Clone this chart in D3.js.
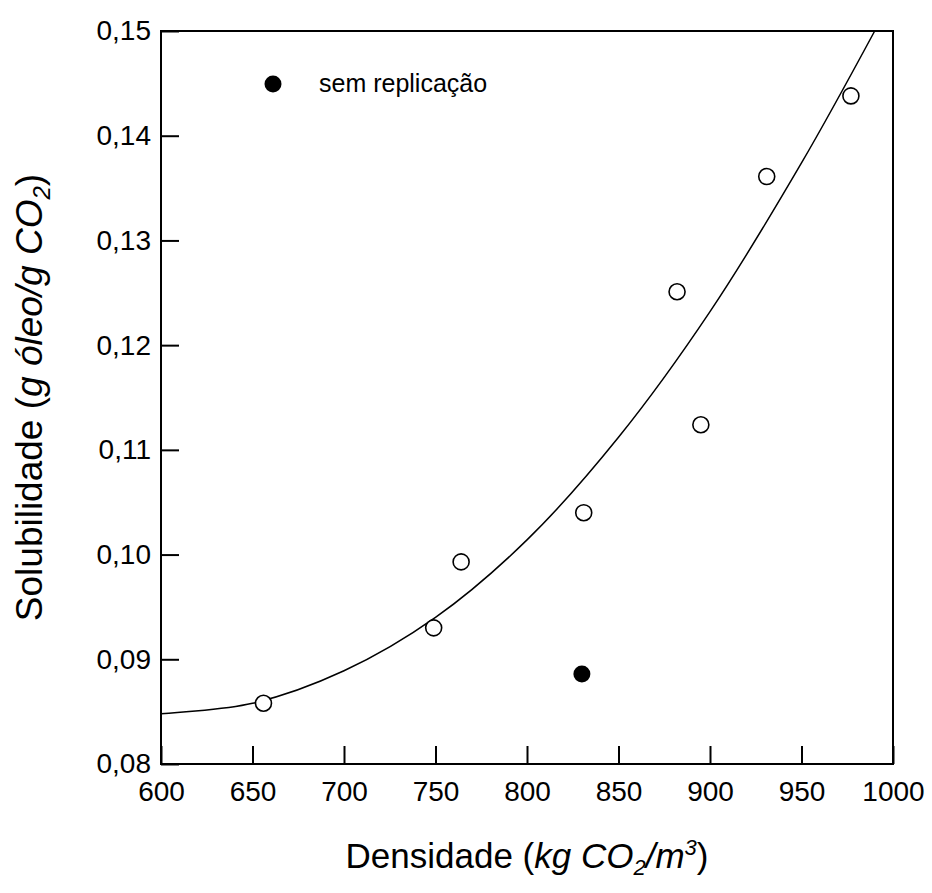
<!DOCTYPE html>
<html>
<head>
<meta charset="utf-8">
<script src="https://cdn.jsdelivr.net/npm/d3@7"></script>
<style>
  body { margin: 0; background: #fff; }
  svg text { font-family: "Liberation Sans", Arial, sans-serif; fill: #000; }
</style>
</head>
<body>
<script>
// measured points (open circles)
const densidade = [656, 749, 764, 831, 882, 895, 931, 977];
const solubilidade = [0.0858, 0.0930, 0.0993, 0.1040, 0.1251, 0.1124, 0.1361, 0.1438];

// point without replication (filled)
const semRepX = [830];
const semRepY = [0.0886];

// fitted curve
const fitX = [600, 650, 700, 750, 800, 850, 900, 950, 990];
const fitY = [0.0848, 0.0858, 0.0889, 0.0940, 0.1014, 0.1112, 0.1232, 0.1374, 0.1500];

const xTicks = [600, 650, 700, 750, 800, 850, 900, 950, 1000];
const yTicks = [0.08, 0.09, 0.10, 0.11, 0.12, 0.13, 0.14, 0.15];

let width = 932,
  height = 893;
let margin = { left: 161, right: 39, top: 31, bottom: 129 };

let svg = d3
  .select('body')
  .append('svg')
  .attr('width', width)
  .attr('height', height);

let x = d3
  .scaleLinear()
  .domain([600, 1000])
  .range([margin.left, width - margin.right]);

let y = d3
  .scaleLinear()
  .domain([0.08, 0.15])
  .range([height - margin.bottom, margin.top]);

const comma = (d) => d3.format('.2f')(d).replace('.', ',');

// frame
svg
  .append('rect')
  .attr('x', x(600))
  .attr('y', y(0.15))
  .attr('width', x(1000) - x(600))
  .attr('height', y(0.08) - y(0.15))
  .attr('fill', 'none')
  .attr('stroke', '#000')
  .attr('stroke-width', 2);

// axes, ticks pointing inward
let xAxis = svg
  .append('g')
  .attr('transform', `translate(0,${y(0.08)})`)
  .call(
    d3.axisBottom(x).tickValues(xTicks).tickSize(-18).tickPadding(17).tickFormat(d3.format('d'))
  );

let yAxis = svg
  .append('g')
  .attr('transform', `translate(${x(600)},0)`)
  .call(
    d3.axisLeft(y).tickValues(yTicks).tickSize(-18).tickPadding(10).tickFormat(comma)
  );

[xAxis, yAxis].forEach((g) => {
  g.select('.domain').remove();
  g.selectAll('.tick line').attr('stroke', '#000').attr('stroke-width', 2);
  g.selectAll('.tick text').attr('font-size', 28).attr('fill', '#000');
});

// fit curve
let line = d3
  .line()
  .x((d, i) => x(fitX[i]))
  .y((d, i) => y(fitY[i]))
  .curve(d3.curveCatmullRom);

svg
  .append('path')
  .datum(fitX)
  .attr('d', line)
  .attr('fill', 'none')
  .attr('stroke', '#000')
  .attr('stroke-width', 1.5);

// data points
densidade.forEach((d, i) => {
  svg
    .append('circle')
    .attr('cx', x(d))
    .attr('cy', y(solubilidade[i]))
    .attr('r', 8)
    .attr('fill', '#fff')
    .attr('stroke', '#000')
    .attr('stroke-width', 1.6);
});

semRepX.forEach((d, i) => {
  svg
    .append('circle')
    .attr('cx', x(d))
    .attr('cy', y(semRepY[i]))
    .attr('r', 8.5)
    .attr('fill', '#000');
});

// legend
svg.append('circle').attr('cx', 273).attr('cy', 84).attr('r', 8.5).attr('fill', '#000');
svg
  .append('text')
  .attr('x', 319)
  .attr('y', 92)
  .attr('font-size', 25)
  .text('sem replicação');

// x title
let xt = svg
  .append('text')
  .attr('x', (x(600) + x(1000)) / 2)
  .attr('y', 868)
  .attr('text-anchor', 'middle')
  .attr('font-size', 35);
xt.append('tspan').text('Densidade (');
xt.append('tspan').attr('font-style', 'italic').text('kg CO');
xt.append('tspan').attr('font-style', 'italic').attr('font-size', 22).attr('dy', 7).text('2');
xt.append('tspan').attr('font-style', 'italic').attr('dy', -7).text('/m');
xt.append('tspan').attr('font-style', 'italic').attr('font-size', 22).attr('dy', -13).text('3');
xt.append('tspan').attr('dy', 13).text(')');

// y title
let yt = svg
  .append('text')
  .attr('transform', `translate(42,${(y(0.08) + y(0.15)) / 2}) rotate(-90)`)
  .attr('text-anchor', 'middle')
  .attr('font-size', 37);
yt.append('tspan').text('Solubilidade (');
yt.append('tspan').attr('font-style', 'italic').text('g óleo/g CO');
yt.append('tspan').attr('font-style', 'italic').attr('font-size', 24).attr('dy', 8).text('2');
yt.append('tspan').attr('dy', -8).text(')');
</script>
</body>
</html>
